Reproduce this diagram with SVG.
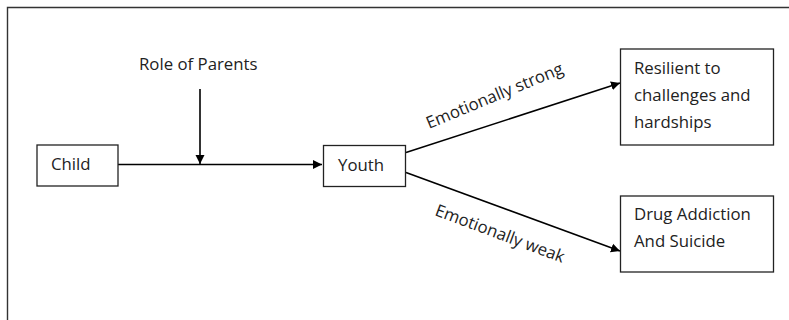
<svg xmlns="http://www.w3.org/2000/svg" width="789" height="320" viewBox="0 0 789 320">
<style>
.box{fill:#fff;stroke:#222;stroke-width:1.3}
.t{font-family:"Open Sans","DejaVu Sans",sans-serif;font-size:16.8px;fill:#222}
.c{stroke:#000;stroke-width:1.6;fill:none}
</style>
<defs>
<marker id="ah" markerWidth="10" markerHeight="10" refX="9" refY="5" orient="auto" markerUnits="userSpaceOnUse">
<path d="M0,0.5 L9,5 L0,9.5 Z" fill="#000"/>
</marker>
</defs>
<rect width="789" height="320" fill="#fff"/>
<path d="M7.5,330 V7.5 H800" fill="none" stroke="#333" stroke-width="1.4"/>
<g id="connectors">
<line class="c" x1="118" y1="164.5" x2="322" y2="164.5" marker-end="url(#ah)"/>
<line class="c" x1="200" y1="89" x2="200" y2="164" marker-end="url(#ah)"/>
<line class="c" x1="406" y1="152.5" x2="620" y2="83" marker-end="url(#ah)"/>
<line class="c" x1="406" y1="172.5" x2="620" y2="251" marker-end="url(#ah)"/>
<text class="t" transform="translate(429,129) rotate(-22.5)">Emotionally strong</text>
<text class="t" transform="translate(434,215) rotate(20.5)">Emotionally weak</text>
</g>
<g id="parents"><text class="t" x="139" y="70">Role of Parents</text></g>
<g id="child"><rect class="box" x="37" y="145" width="81" height="41"/><text class="t" x="51" y="170">Child</text></g>
<g id="youth"><rect class="box" x="323.5" y="145.5" width="82" height="41"/><text class="t" x="338" y="171">Youth</text></g>
<g id="resilient"><rect class="box" x="620.5" y="49" width="153" height="96"/>
<text class="t" x="634" y="74">Resilient to</text><text class="t" x="634" y="101">challenges and</text><text class="t" x="634" y="128">hardships</text></g>
<g id="drug"><rect class="box" x="620.5" y="196" width="153" height="76"/>
<text class="t" x="634" y="220">Drug Addiction</text><text class="t" x="634" y="247">And Suicide</text></g>
</svg>
